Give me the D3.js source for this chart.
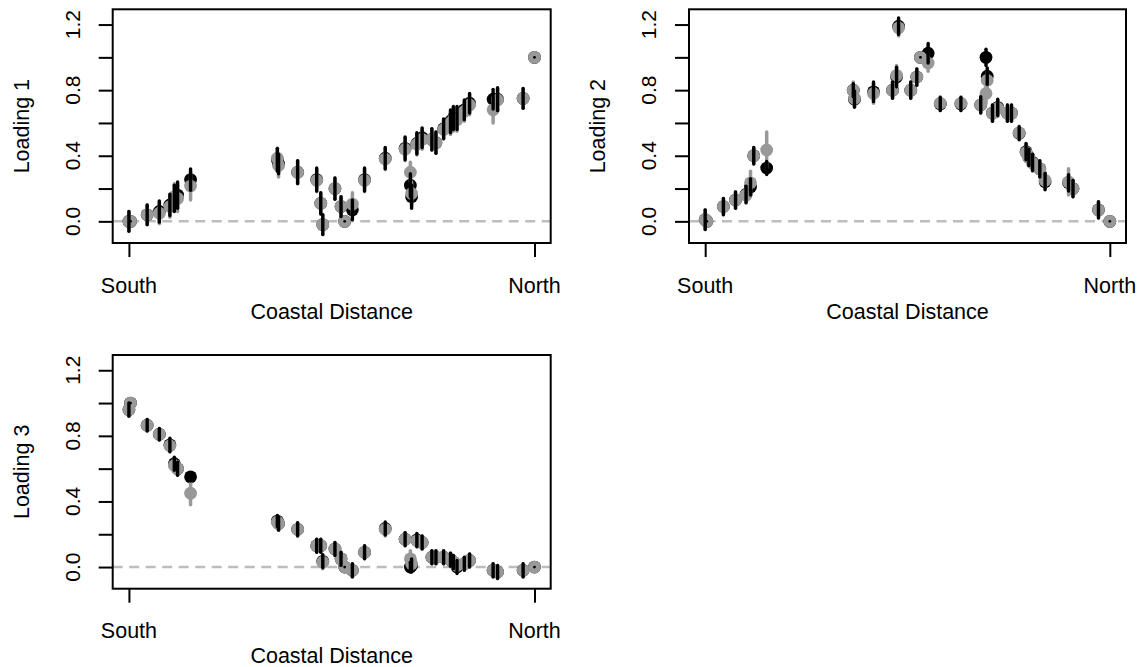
<!DOCTYPE html>
<html><head><meta charset="utf-8">
<script src="https://cdn.jsdelivr.net/npm/d3@7"></script>
<style>body{margin:0;background:#fff}svg{display:block}text{font-family:"Liberation Sans",Arial,Helvetica,sans-serif;fill:#000}</style>
</head><body>
<svg id="c" width="1140" height="667"></svg>
<script>
// Site positions along the coast (0 = South, 1 = North)
const sites = [0.000,0.004,0.045,0.075,0.101,0.112,0.120,0.152,0.366,0.369,0.416,0.463,0.473,0.478,0.508,0.523,0.532,0.551,0.581,0.632,0.681,0.694,0.697,0.710,0.723,0.747,0.757,0.776,0.793,0.800,0.809,0.827,0.840,0.898,0.909,0.972,1.000];

// Loading 1
const load1Black = [0.00,0.00,0.04,0.06,0.10,0.14,0.16,0.255,0.375,0.35,0.30,0.255,0.11,-0.02,0.20,0.09,0.00,0.07,0.255,0.385,0.445,0.22,0.15,0.475,0.51,0.50,0.48,0.565,0.61,0.63,0.63,0.68,0.72,0.745,0.745,0.75,1.00];
const load1BlackErr = [0.06,0,0.06,0.065,0.065,0.08,0.08,0.065,0.07,0.06,0.07,0.07,0.065,0.06,0.065,0.06,0,0.06,0.07,0.065,0.07,0.07,0.07,0.065,0.06,0.065,0.065,0.06,0.07,0.07,0.07,0.06,0.06,0.06,0.07,0.06,0];
const load1Gray = [0.00,0.00,0.04,0.05,0.09,0.15,0.14,0.215,0.385,0.34,0.30,0.25,0.11,-0.02,0.20,0.09,0.00,0.105,0.25,0.38,0.44,0.30,0.17,0.47,0.50,0.50,0.48,0.56,0.60,0.62,0.62,0.67,0.71,0.68,0.74,0.75,1.00];
const load1GrayErr = [0.06,0,0.06,0.065,0.065,0.08,0.08,0.085,0.06,0.07,0.07,0.07,0.065,0.06,0.065,0.06,0,0.07,0.07,0.065,0.07,0.06,0.07,0.065,0.06,0.065,0.065,0.06,0.07,0.07,0.07,0.06,0.06,0.08,0.07,0.06,0];

// Loading 2
const load2Black = [0.01,0.00,0.09,0.13,0.165,0.21,0.40,0.325,0.80,0.745,0.79,0.80,0.88,1.19,0.80,0.88,1.00,1.025,0.715,0.715,0.71,1.00,0.885,0.66,0.695,0.66,0.66,0.537,0.425,0.39,0.36,0.32,0.242,0.235,0.20,0.07,0.00];
const load2BlackErr = [0.06,0,0.05,0.05,0.05,0.05,0.05,0.04,0.04,0.05,0.06,0.05,0.06,0.05,0.05,0.05,0,0.06,0.04,0.04,0.05,0.05,0.05,0.05,0.05,0.05,0.05,0.04,0.05,0.05,0.05,0.05,0.05,0.05,0.05,0.05,0];
const load2Gray = [0.01,0.00,0.09,0.13,0.16,0.235,0.40,0.435,0.80,0.75,0.78,0.80,0.89,1.18,0.80,0.88,1.00,0.965,0.72,0.72,0.71,0.78,0.86,0.66,0.69,0.66,0.66,0.54,0.42,0.39,0.355,0.32,0.25,0.24,0.20,0.07,0.00];
const load2GrayErr = [0.06,0,0.05,0.05,0.05,0.07,0.05,0.11,0.05,0.05,0.06,0.05,0.06,0.05,0.05,0.05,0,0.05,0.04,0.04,0.05,0.06,0.05,0.05,0.05,0.05,0.05,0.04,0.05,0.05,0.05,0.05,0.05,0.08,0.05,0.05,0];

// Loading 3
const load3Black = [0.96,1.00,0.865,0.81,0.745,0.63,0.60,0.55,0.28,0.265,0.23,0.13,0.13,0.035,0.11,0.05,0.00,-0.02,0.09,0.235,0.17,0.00,0.01,0.165,0.15,0.06,0.06,0.06,0.045,0.03,0.00,0.02,0.04,-0.02,-0.03,-0.02,0.00];
const load3BlackErr = [0.04,0,0.035,0.035,0.04,0.04,0.04,0.025,0.035,0.04,0.04,0.04,0.04,0.04,0.04,0.04,0,0.04,0.04,0.04,0.04,0.03,0.04,0.04,0.04,0.04,0.04,0.04,0.04,0.04,0.04,0.04,0.04,0.04,0.04,0.04,0];
const load3Gray = [0.96,1.00,0.865,0.81,0.74,0.62,0.60,0.45,0.275,0.265,0.23,0.13,0.13,0.03,0.11,0.05,0.00,-0.02,0.09,0.23,0.17,0.05,0.02,0.16,0.15,0.06,0.06,0.06,0.045,0.03,0.01,0.02,0.04,-0.02,-0.03,-0.02,0.00];
const load3GrayErr = [0.04,0,0.035,0.035,0.04,0.04,0.04,0.07,0.035,0.04,0.04,0.04,0.04,0.04,0.04,0.04,0,0.04,0.04,0.04,0.04,0.05,0.04,0.04,0.04,0.04,0.04,0.04,0.04,0.04,0.04,0.04,0.04,0.04,0.04,0.04,0];

const yTicks = [0,0.2,0.4,0.6,0.8,1.0,1.2];
const yTickLabels = ["0.0","","0.4","","0.8","","1.2"];
const xTicks = [0,1];
const xTickLabels = ["South","North"];
const xTitle = "Coastal Distance";

const panels = [
  {title:"Loading 1", black:load1Black, blackErr:load1BlackErr, gray:load1Gray, grayErr:load1GrayErr, left:112.7, right:550.7, top:9.3, bottom:243},
  {title:"Loading 2", black:load2Black, blackErr:load2BlackErr, gray:load2Gray, grayErr:load2GrayErr, left:689, right:1126, top:9.3, bottom:243},
  {title:"Loading 3", black:load3Black, blackErr:load3BlackErr, gray:load3Gray, grayErr:load3GrayErr, left:112.7, right:550.7, top:355, bottom:588.7}
];

const svg = d3.select("#c");
const GRAY = "#999999";
const R = 6.4;

panels.forEach((p,pi) => {
  const x = d3.scaleLinear().domain([-0.04,1.04]).range([p.left,p.right]);
  const y = d3.scaleLinear().domain([-0.132,1.293]).range([p.bottom,p.top]);
  const g = svg.append("g");
  const data = sites.map((s,i)=>({x:s,b:p.black[i],be:p.blackErr[i],g:p.gray[i],ge:p.grayErr[i]}));

  g.append("line").attr("x1",p.left).attr("x2",p.right).attr("y1",y(0)).attr("y2",y(0))
    .attr("stroke","#bdbdbd").attr("stroke-width",2.5).attr("stroke-dasharray","10,6.5");

  g.selectAll(".bp").data(data).join("circle").attr("cx",d=>x(d.x)).attr("cy",d=>y(d.b)).attr("r",R).attr("fill","#000");
  g.selectAll(".gb").data(data.filter(d=>d.ge>0)).join("line")
    .attr("x1",d=>x(d.x)).attr("x2",d=>x(d.x)).attr("y1",d=>y(d.g-d.ge)).attr("y2",d=>y(d.g+d.ge))
    .attr("stroke",GRAY).attr("stroke-width",3.5).attr("stroke-linecap","round");
  g.selectAll(".gp").data(data).join("circle").attr("cx",d=>x(d.x)).attr("cy",d=>y(d.g)).attr("r",R).attr("fill",GRAY);
  g.selectAll(".bb").data(data).join("line")
    .attr("x1",d=>x(d.x)).attr("x2",d=>x(d.x)).attr("y1",d=>y(d.b-d.be)).attr("y2",d=>y(d.b+d.be)+ (d.be===0?0.01:0))
    .attr("stroke","#000").attr("stroke-width",d=>d.be===0?2.8:3.4).attr("stroke-linecap","round");

  g.append("rect").attr("x",p.left).attr("y",p.top).attr("width",p.right-p.left).attr("height",p.bottom-p.top)
    .attr("fill","none").attr("stroke","#000").attr("stroke-width",2);

  const ya = g.append("g").attr("transform",`translate(${p.left},0)`)
    .call(d3.axisLeft(y).tickValues(yTicks).tickSize(14).tickFormat(""));
  ya.select(".domain").remove();
  ya.selectAll("line").attr("stroke","#000").attr("stroke-width",2);
  yTicks.forEach((t,i)=>{
    if(!yTickLabels[i]) return;
    g.append("text").attr("transform",`translate(${p.left-33},${y(t)}) rotate(-90)`)
      .attr("text-anchor","middle").attr("font-size",21).text(yTickLabels[i]);
  });
  g.append("text").attr("transform",`translate(${p.left-84},${(p.top+p.bottom)/2}) rotate(-90)`)
    .attr("text-anchor","middle").attr("font-size",21.5).text(p.title);

  const xa = g.append("g").attr("transform",`translate(0,${p.bottom})`)
    .call(d3.axisBottom(x).tickValues(xTicks).tickSize(14).tickFormat(""));
  xa.select(".domain").remove();
  xa.selectAll("line").attr("stroke","#000").attr("stroke-width",2);
  xTicks.forEach((t,i)=>{
    g.append("text").attr("x",x(t)).attr("y",p.bottom+49.5).attr("text-anchor","middle")
      .attr("font-size",21.5).text(xTickLabels[i]);
  });
  g.append("text").attr("x",(p.left+p.right)/2).attr("y",Math.min(p.bottom+76,663)).attr("text-anchor","middle")
    .attr("font-size",21.5).text(xTitle);
});
</script>
</body></html>
